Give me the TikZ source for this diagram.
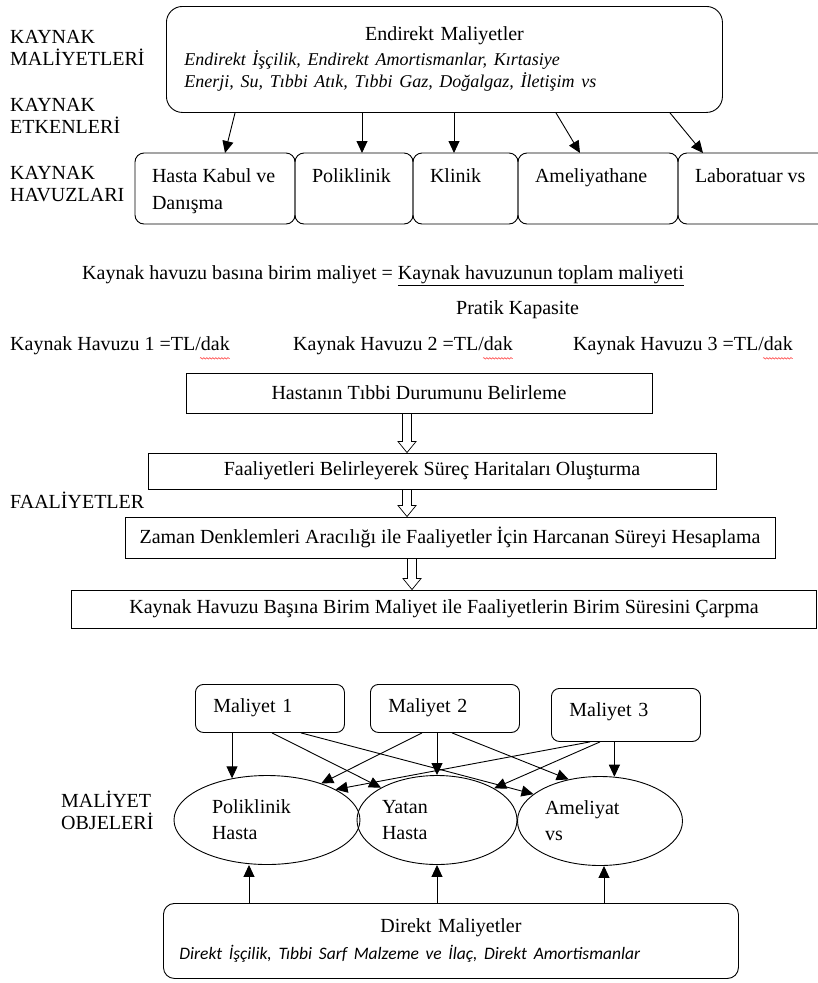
\documentclass[tikz,border=0pt]{standalone}
\usepackage{fontspec}
\setmainfont{Liberation Serif}
\newfontfamily\calibri{Carlito}
\usepackage{tikz}
\usetikzlibrary{shapes.geometric,arrows.meta,positioning,calc,decorations.pathmorphing}
\tikzstyle{every node}=[inner sep=0pt, font=\fontsize{20}{22}\selectfont]
\tikzstyle{kutu}=[draw, line width=0.9pt, rounded corners=11pt]
\tikzstyle{havuz}=[kutu, rounded corners=9pt, anchor=north west, inner xsep=17pt, inner ysep=15.3pt, outer sep=0pt, font=\fontsize{20}{27}\selectfont]
\tikzstyle{faaliyet}=[draw, line width=0.9pt]
\tikzstyle{maliyet}=[kutu, rounded corners=8pt, anchor=north west, align=left, text width=113pt, inner xsep=18pt, inner ysep=14pt, text height=14pt, text depth=6pt]
\tikzstyle{obje}=[draw, ellipse, line width=0.9pt, minimum height=89pt, align=left, text width=110pt, font=\fontsize{20}{26}\selectfont]
\tikzstyle{etiket}=[anchor=north west, align=left]
\tikzstyle{ok}=[-{Triangle[length=12pt,width=11pt]}, line width=0.9pt]
\tikzstyle{imla}=[red!80, line width=0.5pt, decorate, decoration={snake, amplitude=0.8pt, segment length=3pt}]
\tikzstyle{bosok}=[line width=0.7pt, to path={let \p1=(\tikztostart), \p2=(\tikztotarget) in
  (\x1-4.5pt,\y1) -- (\x1-4.5pt,\y2+11pt) -- (\x1-9pt,\y2+11pt) -- (\x1,\y2)
  -- (\x1+9pt,\y2+11pt) -- (\x1+4.5pt,\y2+11pt) -- (\x1+4.5pt,\y1)}]
\newcommand{\havuzyazi}[2]{\parbox[t][40.4pt][t]{#1}{\raggedright #2}}

\begin{document}
\begin{tikzpicture}[x=1pt,y=-1pt]
\useasboundingbox (0,0) rectangle (818,983);

% kaynak maliyetleri ve havuzlar
\node[kutu, rounded corners=16pt, anchor=north west, minimum width=556pt, minimum height=106pt, text width=520pt, inner xsep=18pt, align=left] (em) at (166,6)
  {\makebox[520pt]{Endirekt Maliyetler}\\[3pt]{\itshape\fontsize{18}{22}\selectfont Endirekt İşçilik, Endirekt Amortismanlar, Kırtasiye\\Enerji, Su, Tıbbi Atık, Tıbbi Gaz, Doğalgaz, İletişim vs}};

\node[etiket] (k1) at (10,29.8) {KAYNAK\\MALİYETLERİ};
\node[etiket] (k2) at (10,97.8) {KAYNAK\\ETKENLERİ};
\node[etiket] (k3) at (10,165.8) {KAYNAK\\HAVUZLARI};

\node[havuz]               (hk) at (135,153) {\havuzyazi{126pt}{Hasta Kabul ve\\Danışma}};
\node[havuz, right=0pt of hk] (pk) {\havuzyazi{84pt}{Poliklinik}};
\node[havuz, right=0pt of pk] (kl) {\havuzyazi{71pt}{Klinik}};
\node[havuz, right=0pt of kl] (am) {\havuzyazi{126pt}{Ameliyathane}};
\node[havuz, right=0pt of am] (lb) {\havuzyazi{116pt}{Laboratuar vs}};

\path[ok]
  (em.south -| 235,0) edge (hk.north -| 225,0)
  (em.south -| 362,0) edge (pk.north -| 362,0)
  (em.south -| 454,0) edge (kl.north -| 454,0)
  (em.south -| 556,0) edge (am.north -| 580,0)
  (em.south -| 670,0) edge (lb.north -| 703,0);

% birim maliyet
\node[anchor=west] (fo) at (82,276) {Kaynak havuzu basına birim maliyet = \underline{Kaynak havuzunun toplam maliyeti}};
\node[anchor=west] (pr) at (456,310) {Pratik Kapasite};
\node[anchor=west] (kh1) at (10,346) {Kaynak Havuzu 1 =TL/dak};
\node[anchor=west] (kh2) at (293,346) {Kaynak Havuzu 2 =TL/dak};
\node[anchor=west] (kh3) at (573,346) {Kaynak Havuzu 3 =TL/dak};
\draw[imla] ([xshift=-30pt,yshift=-3pt]kh1.south east) -- ([yshift=-3pt]kh1.south east);
\draw[imla] ([xshift=-30pt,yshift=-3pt]kh2.south east) -- ([yshift=-3pt]kh2.south east);
\draw[imla] ([xshift=-30pt,yshift=-3pt]kh3.south east) -- ([yshift=-3pt]kh3.south east);

% faaliyetler
\node[faaliyet, minimum width=466pt, minimum height=40pt] (f1) at (419,393) {Hastanın Tıbbi Durumunu Belirleme};
\node[faaliyet, minimum width=568pt, minimum height=36pt] (f2) at (432,471) {Faaliyetleri Belirleyerek Süreç Haritaları Oluşturma};
\node[faaliyet, minimum width=650pt, minimum height=41pt] (f3) at (450,537.5) {Zaman Denklemleri Aracılığı ile Faaliyetler İçin Harcanan Süreyi Hesaplama};
\node[faaliyet, minimum width=745pt, minimum height=38pt] (f4) at (444,609) {Kaynak Havuzu Başına Birim Maliyet ile Faaliyetlerin Birim Süresini Çarpma};
\node[anchor=west] (fa) at (10,500) {FAALİYETLER};

\path[bosok]
  (f1.south -| 407,0) edge (f2.north -| 407,0)
  (f2.south -| 407,0) edge (f3.north -| 407,0)
  (f3.south -| 412,0) edge (f4.north -| 412,0);

% maliyet objeleri
\node[maliyet] (m1) at (195,684) {Maliyet 1};
\node[maliyet] (m2) at (370,684) {Maliyet 2};
\node[maliyet, text depth=11pt] (m3) at (551,688) {Maliyet 3};

\node[obje, minimum width=186pt] (ph) at (267,820) {Poliklinik\\Hasta};
\node[obje, minimum width=160pt] (yh) at (437,820) {Yatan\\Hasta};
\node[obje, minimum width=165pt] (av) at (600,821) {Ameliyat\\vs};
\node[etiket] (mo) at (61,791) {MALİYET\\OBJELERİ};

\node[kutu, anchor=north west, minimum width=575pt, minimum height=75pt, text width=543pt, inner xsep=16pt, align=left, font=\fontsize{20}{27}\selectfont] (dm) at (163,903)
  {\makebox[543pt]{Direkt Maliyetler}\\{\calibri\itshape\fontsize{17.5}{27}\selectfont Direkt İşçilik, Tıbbi Sarf Malzeme ve İlaç, Direkt Amortismanlar}};

\path[ok]
  (m1.south -| ph.130) edge (ph.130)
  (m1.south -| 272,0) edge (yh.150)
  (m1.south -| 301,0) edge (av.158)
  (m2.south -| 422,0) edge (ph.34)
  (m2.south -| yh.north) edge (yh.north)
  (m2.south -| 452,0) edge (av.127)
  (m3.south -| 590,0) edge (ph.24)
  (m3.south -| 600,0) edge (yh.29)
  (m3.south -| av.72) edge (av.72)
  (dm.north -| 249,0) edge (249,0 |- ph.south)
  (dm.north -| yh.south) edge (yh.south)
  (dm.north -| 604,0) edge (604,0 |- av.south);
\end{tikzpicture}
\end{document}
